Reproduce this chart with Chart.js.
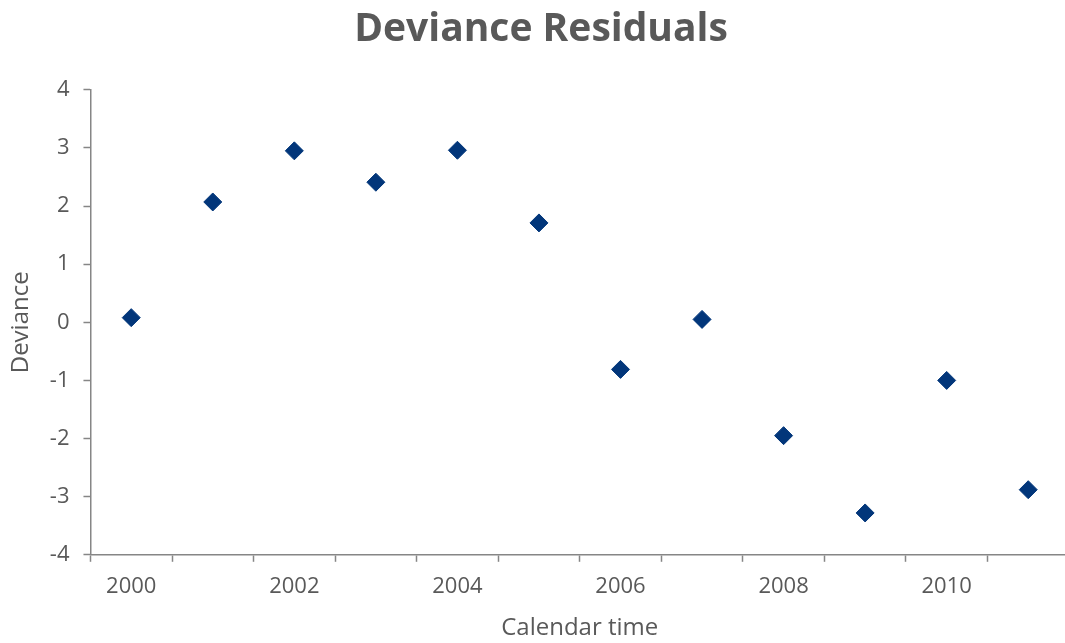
<!DOCTYPE html>
<html>
<head>
<meta charset="utf-8">
<script src="https://cdn.jsdelivr.net/npm/chart.js@4.4.1/dist/chart.umd.min.js"></script>
<style>
  html, body { margin: 0; padding: 0; background: #fff; overflow: hidden; }
  #wrap { width: 1079px; height: 643px; }
</style>
</head>
<body>
<div id="wrap"><canvas id="chart"></canvas></div>
<script>
const years = ["2000", "2001", "2002", "2003", "2004", "2005", "2006", "2007", "2008", "2009", "2010", "2011"];
const deviance = [0.08, 2.07, 2.95, 2.41, 2.96, 1.71, -0.81, 0.05, -1.95, -3.28, -1.0, -2.88];
const yTicks = [-4, -3, -2, -1, 0, 1, 2, 3, 4];

const axisGrey = "#868686";
const textGrey = "#595959";
const fontFamily = "'Open Sans', 'Noto Sans', sans-serif";

new Chart(document.getElementById("chart").getContext("2d"), {
    type: "line",
    data: {
        labels: years,
        datasets: [{
            label: "Deviance",
            data: deviance,
            showLine: false,
            pointStyle: "rectRot",
            pointRadius: 9,
            pointBorderWidth: 1,
            pointBackgroundColor: "#02367a",
            pointBorderColor: "#02367a"
        }]
    },
    options: {
        responsive: true,
        maintainAspectRatio: false,
        animation: false,
        layout: { padding: { top: 6, right: 4, bottom: 0, left: 7 } },
        plugins: {
            legend: { display: false },
            tooltip: { enabled: false },
            title: {
                display: true,
                text: "Deviance Residuals",
                color: textGrey,
                font: { family: fontFamily, size: 39, weight: "bold" },
                padding: { top: 0, bottom: 37 }
            }
        },
        scales: {
            x: {
                offset: true,
                grid: {
                    offset: true,
                    drawOnChartArea: false,
                    drawTicks: true,
                    tickLength: 7,
                    tickWidth: 1.5,
                    tickColor: axisGrey
                },
                border: { display: true, color: axisGrey, width: 1.5 },
                ticks: {
                    autoSkip: false,
                    maxRotation: 0,
                    color: textGrey,
                    font: { family: fontFamily, size: 22 },
                    padding: 12,
                    callback: function (v, i) { return i % 2 === 0 ? years[i] : ""; }
                },
                title: {
                    display: true,
                    text: "Calendar time",
                    color: textGrey,
                    font: { family: fontFamily, size: 24 },
                    padding: { top: 2, bottom: 0 }
                }
            },
            y: {
                min: yTicks[0],
                max: yTicks[yTicks.length - 1],
                grid: {
                    drawOnChartArea: false,
                    drawTicks: true,
                    tickLength: 7,
                    tickWidth: 1.5,
                    tickColor: axisGrey
                },
                border: { display: true, color: axisGrey, width: 1.5 },
                afterBuildTicks: function (axis) {
                    axis.ticks = yTicks.map(v => ({ value: v }));
                },
                ticks: {
                    color: textGrey,
                    font: { family: fontFamily, size: 22 },
                    padding: 14
                },
                title: {
                    display: true,
                    text: "Deviance",
                    color: textGrey,
                    font: { family: fontFamily, size: 24 },
                    padding: { top: 0, bottom: 0 }
                }
            }
        }
    }
});
</script>
</body>
</html>
